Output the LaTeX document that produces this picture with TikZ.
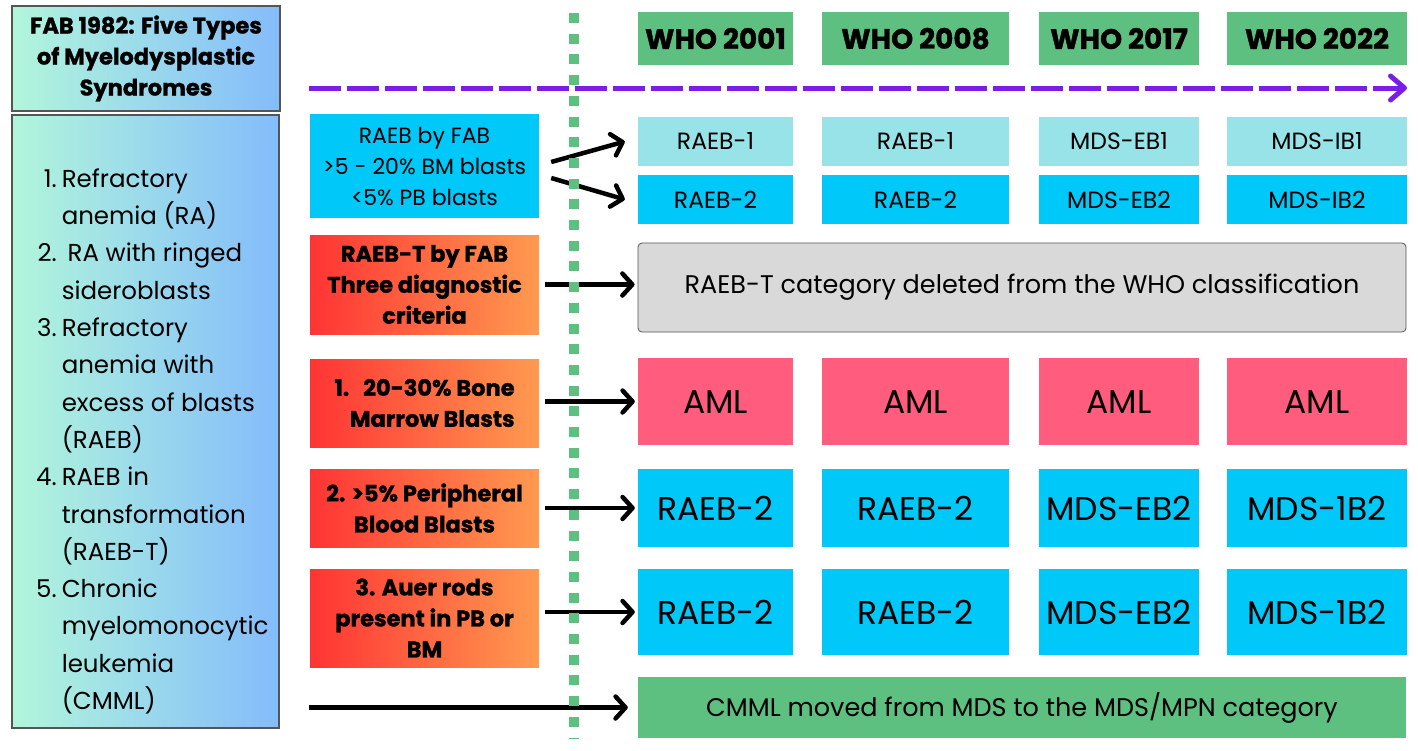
\documentclass[tikz,border=0pt]{standalone}
\usepackage{fontspec}
\setmainfont{Poppins}[BoldFeatures={FakeBold=1.2}]
\usetikzlibrary{arrows.meta}

\definecolor{whogreen}{HTML}{5DC080}
\definecolor{palecyan}{HTML}{98E3E8}
\definecolor{brightcyan}{HTML}{00C8F8}
\definecolor{amlpink}{HTML}{FF5C7E}
\definecolor{fabred}{HTML}{FF3434}
\definecolor{faborange}{HTML}{FF9A50}
\definecolor{mint}{HTML}{B1F6DB}
\definecolor{skyblue}{HTML}{84BCFB}
\definecolor{frame}{HTML}{555555}
\definecolor{timeline}{HTML}{7A1EE6}
\definecolor{delgray}{HTML}{D9D9D9}

\begin{document}
\begin{tikzpicture}[x=1pt,y=-1pt,
    box/.style={inner sep=0pt, align=center},
    who/.style={box, fill=whogreen, minimum height=53pt, font=\fontsize{28}{32}\selectfont\bfseries},
    small/.style={box, minimum height=49pt, font=\fontsize{23.5}{31}\selectfont},
    big/.style={box, fill=brightcyan, font=\fontsize{33}{38}\selectfont},
    fab/.style={box, left color=fabred, right color=faborange, minimum width=229pt, font=\fontsize{22.5}{31}\selectfont\bfseries},
    wide/.style={box, minimum width=768pt, font=\fontsize{25.5}{30}\selectfont},
    arr/.style={line width=4.5pt, -{Straight Barb[length=10pt,width=22pt,round]}}
]
\useasboundingbox (0,0) rectangle (1418,750);

% FAB 1982 on the left
\node[box, draw=frame, line width=2.5pt, left color=mint, right color=skyblue, minimum width=268pt, minimum height=105pt, font=\fontsize{22.5}{31}\selectfont\bfseries] (fab82) at (146,58.5) {FAB 1982: Five Types\\of Myelodysplastic\\Syndromes};
\node[box, draw=frame, line width=2.5pt, left color=mint, right color=skyblue, minimum width=267pt, minimum height=613pt] (types) at (145.5,421.5) {};
\node[anchor=west, inner sep=0pt, font=\fontsize{24.5}{37.3}\selectfont] (typelist) at (36,441) {%
  \begin{tabular}{@{}r@{\hspace{5pt}}l@{}}
  1. & Refractory\\
     & anemia (RA)\\
  2. & \hspace{6pt}RA with ringed\\
     & sideroblasts\\
  3. & Refractory\\
     & anemia with\\
     & excess of blasts\\
     & (RAEB)\\
  4. & RAEB in\\
     & transformation\\
     & (RAEB-T)\\
  5. & Chronic\\
     & myelomonocytic\\
     & leukemia\\
     & (CMML)
  \end{tabular}};

% FAB categories
\node[box, fill=brightcyan, minimum width=229pt, minimum height=104pt, font=\fontsize{22}{31}\selectfont] (raeb) at (424.5,166) {RAEB by FAB\\>5 - 20\% BM blasts\\<5\% PB blasts};
\node[fab, minimum height=99pt] (raebt) at (424.5,284.5) {RAEB-T by FAB\\Three diagnostic\\criteria};
\node[fab, minimum height=88pt, align=right] (crit1) at (424.5,403) {1.\hspace{14pt}20-30\% Bone\\Marrow Blasts};
\node[fab, minimum height=78pt] (crit2) at (424.5,508) {2. >5\% Peripheral\\Blood Blasts};
\node[fab, minimum height=98pt] (crit3) at (424.5,618) {3. Auer rods\\present in PB or\\BM};

% WHO columns
\foreach \i/\x/\w/\yr/\ra/\rb/\rc in {1/715.5/155/2001/RAEB-1/RAEB-2/RAEB-2,
    2/915.5/187/2008/RAEB-1/RAEB-2/RAEB-2,
    3/1119/160/2017/MDS-EB1/MDS-EB2/MDS-EB2,
    4/1317/180/2022/MDS-IB1/MDS-IB2/MDS-1B2} {
  \node[who, minimum width=\w pt] (who\i) at (\x,38.5) {WHO \yr};
  \node[small, fill=palecyan, minimum width=\w pt] (sub\i) at (\x,141.5) {\ra};
  \node[small, fill=brightcyan, minimum width=\w pt] (eb\i) at (\x,199.5) {\rb};
  \node[big, fill=amlpink, minimum width=\w pt, minimum height=87pt] (aml\i) at (\x,401.5) {AML};
  \node[big, minimum width=\w pt, minimum height=78pt] (pb\i) at (\x,508) {\rc};
  \node[big, minimum width=\w pt, minimum height=86pt] (auer\i) at (\x,612) {\rc};
}
\node[wide, draw=frame, line width=0.8pt, fill=delgray, rounded corners=4pt, minimum height=89pt] (deleted) at (1022,287.5) {RAEB-T category deleted from the WHO classification};
\node[wide, fill=whogreen, minimum height=61pt] (cmml) at (1022,707.5) {CMML moved from MDS to the MDS/MPN category};

% timeline
\coordinate (tstart) at (309,88);
\coordinate (tend) at (1407,88);
\draw[timeline, line width=5pt, dash pattern=on 32pt off 6pt, -{Straight Barb[length=14pt,width=24pt,round]}] (tstart) -- (tend);

% arrows
\draw[arr] ([xshift=12pt,yshift=4pt]raeb.east) -- ([xshift=-13pt]sub1.west);
\draw[arr] ([xshift=12pt,yshift=-12pt]raeb.east) -- ([xshift=-13pt]eb1.west);
\draw[arr, shorten <=6pt, shorten >=3pt] (raebt.east) -- (raebt.east -| deleted.west);
\draw[arr, shorten <=6pt, shorten >=3pt] (aml1.west -| crit1.east) -- (aml1.west);
\draw[arr, shorten <=6pt, shorten >=3pt] (crit2.east) -- (pb1.west);
\draw[arr, shorten <=6pt, shorten >=3pt] (auer1.west -| crit3.east) -- (auer1.west);
\coordinate (cmmlstart) at (309,707.5);
\draw[arr, shorten >=10pt] (cmmlstart) -- (cmml.west);

% dotted divider
\coordinate (dtop) at (574,13);
\coordinate (dbot) at (574,738);
\draw[whogreen, line width=10pt, dash pattern=on 10pt off 10.7pt] (dtop) -- (dbot);
\end{tikzpicture}
\end{document}
